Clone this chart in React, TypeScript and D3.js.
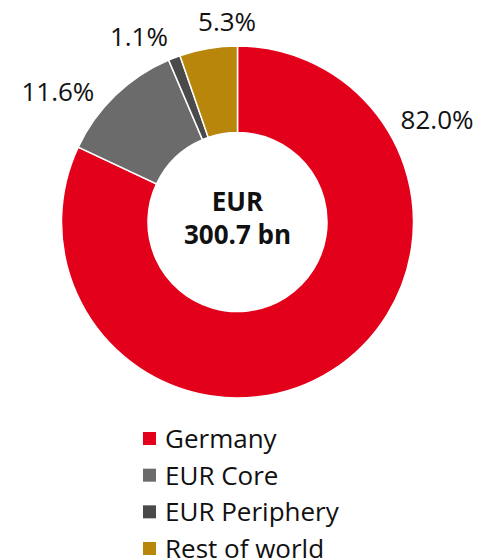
import React, { useEffect, useRef } from "react";
import * as d3 from "d3";

const categories = ["Germany", "EUR Core", "EUR Periphery", "Rest of world"];
const shares = [82.0, 11.6, 1.1, 5.3];
const colors = ["#e2001a", "#6b6b6b", "#4a4a4a", "#b8860b"];
const centerLines = ["EUR", "300.7 bn"];

// label placement in polar terms (degrees clockwise from 12 o'clock, radius)
const labelAngles = [63, 306, 332, 357];
const labelRadii = [224, 222, 210, 200];

const width = 481;
const height = 560;
const cx = 237.5;
const cy = 222;
const outerR = 176;
const innerR = 89.5;
const font = "'Open Sans', sans-serif";

export default function App() {
  const ref = useRef<SVGSVGElement>(null);

  useEffect(() => {
    const svg = d3.select(ref.current);
    svg.selectAll("*").remove();

    const data = categories.map((name, i) => ({ name, value: shares[i], i }));

    const pie = d3
      .pie<any>()
      .value((d) => d.value)
      .sort(null);

    const arc = d3.arc<any>().innerRadius(innerR).outerRadius(outerR);

    const g = svg.append("g").attr("transform", `translate(${cx},${cy})`);

    g.selectAll("path")
      .data(pie(data))
      .enter()
      .append("path")
      .attr("d", arc)
      .attr("fill", (d) => colors[d.data.i])
      .attr("stroke", "#fff")
      .attr("stroke-width", 1.5);

    g.selectAll("text.lbl")
      .data(data)
      .enter()
      .append("text")
      .attr("class", "lbl")
      .attr("x", (d) => labelRadii[d.i] * Math.sin((labelAngles[d.i] * Math.PI) / 180))
      .attr("y", (d) => -labelRadii[d.i] * Math.cos((labelAngles[d.i] * Math.PI) / 180))
      .attr("dy", "0.35em")
      .attr("text-anchor", "middle")
      .style("font-family", font)
      .style("font-size", "26px")
      .attr("fill", "#111")
      .text((d) => d3.format(".1f")(d.value) + "%");

    g.selectAll("text.center")
      .data(centerLines)
      .enter()
      .append("text")
      .attr("class", "center")
      .attr("x", 0)
      .attr("y", (d, i) => -11 + i * 33)
      .attr("text-anchor", "middle")
      .style("font-family", font)
      .style("font-size", "26px")
      .style("font-weight", "bold")
      .attr("fill", "#111")
      .text((d) => d);

    const yLegend = d3
      .scalePoint()
      .domain(categories)
      .range([448, 558]);

    const legend = svg
      .append("g")
      .selectAll("g")
      .data(data)
      .enter()
      .append("g")
      .attr("transform", (d) => `translate(143,${yLegend(d.name)})`);

    legend
      .append("rect")
      .attr("x", 0)
      .attr("y", -16)
      .attr("width", 13)
      .attr("height", 13)
      .attr("fill", (d) => colors[d.i]);

    legend
      .append("text")
      .attr("x", 22)
      .attr("y", 0)
      .style("font-family", font)
      .style("font-size", "26px")
      .attr("fill", "#111")
      .text((d) => d.name);
  }, []);

  return (
    <svg
      ref={ref}
      width={width}
      height={height}
      style={{ position: "absolute", left: 0, top: 0, background: "#fff" }}
    ></svg>
  );
}
